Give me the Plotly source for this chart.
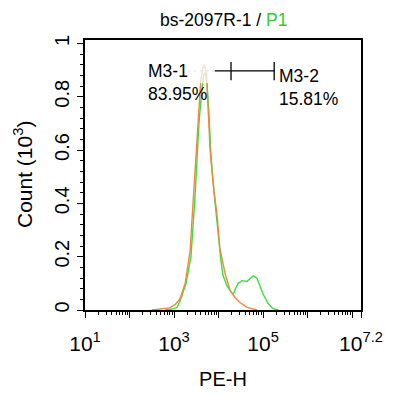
import plotly.graph_objects as go

# ---- data (x in log10 PE-H units, y in Count x10^3) ----
orange_log = [2.5, 2.7, 2.9, 3.02, 3.13, 3.25, 3.36, 3.43, 3.5, 3.55, 3.6, 3.65, 3.69, 3.73, 3.77,
              3.81, 3.88, 3.97, 4.03, 4.15, 4.26, 4.37, 4.48, 4.64, 4.86]
orange_cnt = [0.0, 0.003, 0.008, 0.02, 0.04, 0.1, 0.22, 0.41, 0.6, 0.75, 0.86, 0.91, 0.92, 0.88, 0.76,
              0.6, 0.47, 0.35, 0.23, 0.135, 0.073, 0.047, 0.028, 0.01, 0.0]

green_log = [2.8, 3.0, 3.07, 3.15, 3.27, 3.38, 3.47, 3.56, 3.61, 3.66, 3.7, 3.74, 3.78, 3.83, 3.9,
             3.97, 4.05, 4.1, 4.19, 4.27, 4.33, 4.38, 4.44, 4.53, 4.64, 4.71, 4.78, 4.86, 4.93,
             5.0, 5.11, 5.22, 5.34]
green_cnt = [0.0, 0.005, 0.01, 0.04, 0.1, 0.2, 0.42, 0.7, 0.8, 0.88, 0.89, 0.85, 0.75, 0.58, 0.44,
             0.32, 0.19, 0.13, 0.09, 0.07, 0.058, 0.08, 0.1, 0.11, 0.107, 0.118, 0.128, 0.12, 0.09,
             0.06, 0.025, 0.005, 0.0]

# marker gates (log10 units)
m_dot_start = 3.31
m_solid_start = 3.92
m_split = 4.28
m_end = 5.25
m_level = 0.897
m_tick_lo = 0.862
m_tick_hi = 0.93

x_tick_logs = [1, 2, 3, 4, 5, 6, 7, 7.2]
x_tick_text = ["10<sup>1</sup>", "", "10<sup>3</sup>", "", "10<sup>5</sup>", "", "", "10<sup>7.2</sup>"]
y_tick_vals = [0, 0.2, 0.4, 0.6, 0.8, 1.0]
y_tick_text = ["0", "0.2", "0.4", "0.6", "0.8", "1"]

ORANGE = "#EE8A3E"
GREEN = "#3DDC3D"
FONT = "Liberation Sans, Arial, sans-serif"

def lin(v):
    return [10 ** a for a in v]

fig = go.Figure()
fig.add_trace(go.Scatter(x=lin(green_log), y=green_cnt, mode="lines",
                         line=dict(color=GREEN, width=1.4), showlegend=False))
fig.add_trace(go.Scatter(x=lin(orange_log), y=orange_cnt, mode="lines",
                         line=dict(color=ORANGE, width=1.4), showlegend=False))

# marker bars
fig.add_trace(go.Scatter(x=lin([m_dot_start, m_solid_start]), y=[m_level, m_level], mode="lines",
                         line=dict(color="#9a9a9a", width=1, dash="dot"), showlegend=False))
fig.add_trace(go.Scatter(x=lin([m_solid_start, m_end]), y=[m_level, m_level], mode="lines",
                         line=dict(color="black", width=1.3), showlegend=False))
for t in [m_split, m_end]:
    fig.add_trace(go.Scatter(x=lin([t, t]), y=[m_tick_lo, m_tick_hi], mode="lines",
                             line=dict(color="black", width=1.3), showlegend=False))

# minor ticks on log axis
minor_vals = []
for d in range(1, 8):
    for k in range(2, 10):
        v = k * 10 ** d
        if v < 10 ** 7.2:
            minor_vals.append(v)

# page has an 8px body margin, so the figure is 392x390 and offset by 8px
fig.update_layout(
    width=392, height=390,
    margin=dict(l=77, r=39, t=32, b=88, autoexpand=False),
    paper_bgcolor="white", plot_bgcolor="white",
    font=dict(family=FONT, color="black"),
    showlegend=False,
)
fig.update_xaxes(
    automargin=False,
    type="log", range=[1, 7.2],
    tickmode="array", tickvals=lin(x_tick_logs), ticktext=x_tick_text,
    ticks="outside", ticklen=6, tickwidth=1.3, tickcolor="black",
    tickfont=dict(size=21, family=FONT), ticklabelstandoff=8,
    minor=dict(tickmode="array", tickvals=minor_vals, ticks="outside", ticklen=3,
               tickwidth=1, tickcolor="black", showgrid=False),
    showline=True, linecolor="black", linewidth=1.5, mirror=True,
    showgrid=False, zeroline=False,
    title=dict(text="PE-H", font=dict(size=20, family=FONT), standoff=18),
)
fig.update_yaxes(
    automargin=False,
    range=[0, 1.013],
    tickmode="array", tickvals=y_tick_vals, ticktext=y_tick_text, tickangle=-90,
    ticks="outside", ticklen=6, tickwidth=1.3, tickcolor="black",
    tickfont=dict(size=20, family=FONT),
    minor=dict(dtick=0.04, tick0=0, ticks="outside", ticklen=3, tickwidth=1,
               tickcolor="black", showgrid=False),
    showline=True, linecolor="black", linewidth=1.5, mirror=True,
    showgrid=False, zeroline=False,
)

# faint label background over the peak tops
fig.add_shape(type="rect", xref="paper", yref="paper", x0=0.366, x1=0.467, y0=0.84, y1=0.93,
              fillcolor="white", opacity=0.7, line=dict(width=0), layer="above")

fig.add_annotation(text="Count (10<sup>3</sup>)", textangle=-90, xref="paper", yref="paper",
                   x=0, y=0.5, xshift=-62, xanchor="center", yanchor="middle", showarrow=False,
                   font=dict(size=21, family=FONT))
fig.add_annotation(text="bs-2097R-1 / <span style='color:#33CC33'>P1</span>", xref="paper", yref="paper",
                   x=0.5, y=1, yshift=20, xanchor="center", yanchor="middle", showarrow=False,
                   font=dict(size=17.5, family=FONT))
fig.add_annotation(text="M3-1<br>83.95%", xref="paper", yref="paper", x=(146 - 85) / 276,
                   y=(310 - 83) / 270, xanchor="left", yanchor="middle", align="left", showarrow=False,
                   font=dict(size=17.5, family=FONT))
fig.add_annotation(text="M3-2<br>15.81%", xref="paper", yref="paper", x=(277 - 85) / 276,
                   y=(310 - 87.5) / 270, xanchor="left", yanchor="middle", align="left", showarrow=False,
                   font=dict(size=17.5, family=FONT))

fig.write_html("out.html")
